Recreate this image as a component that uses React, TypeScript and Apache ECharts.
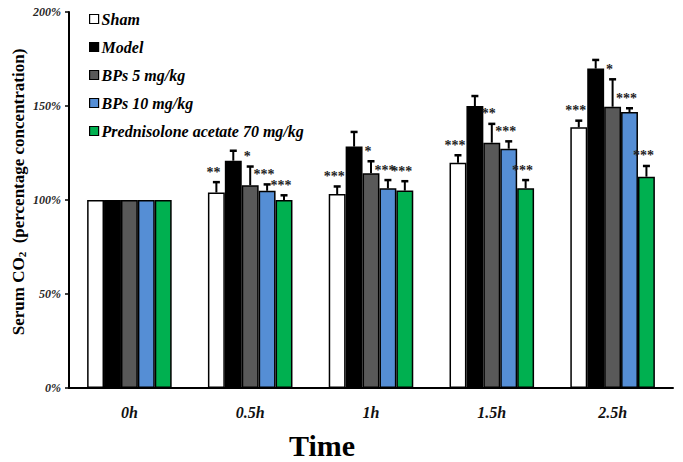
import React, { useEffect, useRef } from "react";
import * as echarts from "echarts";

const categories = ["0h", "0.5h", "1h", "1.5h", "2.5h"];
const seriesNames = ["Sham", "Model", "BPs 5 mg/kg", "BPs 10 mg/kg", "Prednisolone acetate 70 mg/kg"];
const colors = ["#ffffff", "#000000", "#595959", "#558ed5", "#00b050"];

const shamValues = [100, 104, 103.2, 119.8, 138.7];
const modelValues = [100, 120.9, 128.4, 150, 169.9];
const bps5Values = [100, 107.8, 114.2, 130.5, 149.6];
const bps10Values = [100, 104.9, 106.2, 127.3, 146.8];
const predValues = [100, 100, 105, 106.2, 112.4];

const shamErr = [0, 5.5, 4, 4, 3.5];
const modelErr = [0, 5.3, 7.8, 5.3, 4.6];
const bps5Err = [0, 10, 6.4, 10, 14.6];
const bps10Err = [0, 3.4, 4.4, 3.9, 2];
const predErr = [0, 2.5, 5, 4.4, 5.7];

const shamStars = ["", "**", "***", "***", "***"];
const modelStars = ["", "", "", "", ""];
const bps5Stars = ["", "*", "*", "**", "*"];
const bps10Stars = ["", "***", "***", "***", "***"];
const predStars = ["", "***", "***", "***", "***"];

const yTicks = [0, 50, 100, 150, 200];

const allValues = [shamValues, modelValues, bps5Values, bps10Values, predValues];
const allErr = [shamErr, modelErr, bps5Err, bps10Err, predErr];
const allStars = [shamStars, modelStars, bps5Stars, bps10Stars, predStars];

const SERIF = "'Liberation Serif', 'Times New Roman', serif";

export default function App() {
  const ref = useRef<HTMLDivElement>(null);
  useEffect(() => {
    if (!ref.current) return;
    const chart = echarts.init(ref.current, null, { renderer: "svg" });
    const n = seriesNames.length;
    const gapRatio = 0.3;

    const barSeries = seriesNames.map((name, i) => ({
      name,
      type: "bar",
      data: allValues[i],
      barGap: "0%",
      barCategoryGap: "30%",
      itemStyle: { color: colors[i], borderColor: "#000", borderWidth: 1.5 },
    }));

    const errSeries = seriesNames.map((name, i) => ({
      type: "custom",
      name: name + "-err",
      z: 5,
      data: categories.map((_, c) => [c, allValues[i][c], allErr[i][c]]),
      encode: { x: 0, y: 1 },
      renderItem: (params: any, api: any) => {
        const cat = api.value(0);
        const val = api.value(1);
        const err = api.value(2);
        const band = api.size([1, 0])[0];
        const bw = (band * (1 - gapRatio)) / n;
        const cx = api.coord([cat, 0])[0] + (i - (n - 1) / 2) * bw;
        const base = api.coord([cat, val])[1];
        const top = api.coord([cat, val + err])[1];
        const children: any[] = [];
        if (err > 0) {
          children.push({
            type: "line",
            shape: { x1: cx, y1: base, x2: cx, y2: top },
            style: { stroke: "#000", lineWidth: 2 },
          });
          children.push({
            type: "line",
            shape: { x1: cx - 3.5, y1: top, x2: cx + 3.5, y2: top },
            style: { stroke: "#000", lineWidth: 2.5 },
          });
        }
        const star = allStars[i][cat];
        if (star) {
          children.push({
            type: "text",
            x: cx - 3,
            y: top - 3,
            style: {
              text: star,
              fontSize: 14,
              fontWeight: "bold",
              fontFamily: SERIF,
              fill: "#222",
              align: "center",
              verticalAlign: "bottom",
            },
          });
        }
        return { type: "group", children };
      },
    }));

    chart.setOption({
      animation: false,
      grid: { left: 69, right: 10, top: 12, bottom: 74, containLabel: false },
      legend: {
        data: seriesNames,
        orient: "vertical",
        left: 84,
        top: 6,
        itemWidth: 9,
        itemHeight: 9,
        itemGap: 12,
        icon: "rect",
        itemStyle: { borderColor: "#000", borderWidth: 1.2 },
        textStyle: {
          fontFamily: SERIF,
          fontSize: 16,
          fontStyle: "italic",
          fontWeight: "bold",
          color: "#000",
          padding: [0, 0, 0, -2],
        },
      },
      xAxis: {
        type: "category",
        data: categories,
        axisLine: { lineStyle: { color: "#000", width: 2 } },
        axisTick: { inside: true, length: 4, lineStyle: { color: "#000", width: 1.5 } },
        axisLabel: {
          fontFamily: SERIF,
          fontSize: 16,
          fontStyle: "italic",
          fontWeight: "bold",
          color: "#111",
          margin: 16,
        },
      },
      yAxis: {
        type: "value",
        min: 0,
        max: 200,
        interval: 50,
        splitLine: { show: false },
        axisLine: { show: true, lineStyle: { color: "#000", width: 2 } },
        axisTick: { show: true, length: 4, lineStyle: { color: "#000", width: 1.5 } },
        axisLabel: {
          formatter: (v: number) => (yTicks.includes(v) ? v + "%" : ""),
          fontFamily: SERIF,
          fontSize: 12,
          fontStyle: "italic",
          fontWeight: "bold",
          color: "#262626",
          margin: 8,
        },
      },
      graphic: [
        {
          type: "text",
          x: 17,
          y: 192,
          rotation: Math.PI / 2,
          style: {
            text: "{a|Serum CO}{s|2}{a|  (percentage concentration)}",
            align: "center",
            verticalAlign: "middle",
            rich: {
              a: { fontFamily: SERIF, fontSize: 17, fontWeight: "bold", fill: "#000", verticalAlign: "bottom", lineHeight: 20 },
              s: { fontFamily: SERIF, fontSize: 11, fontWeight: "bold", fill: "#000", verticalAlign: "bottom", lineHeight: 16 },
            },
          },
        },
        {
          type: "text",
          x: 322,
          y: 445,
          style: {
            text: "Time",
            fontFamily: SERIF,
            fontSize: 30,
            fontWeight: "bold",
            fill: "#000",
            align: "center",
            verticalAlign: "middle",
          },
        },
      ],
      series: [...barSeries, ...errSeries],
    });
    return () => chart.dispose();
  }, []);
  return <div ref={ref} style={{ width: 683, height: 462, position: "absolute", left: 0, top: 0 }} />;
}
